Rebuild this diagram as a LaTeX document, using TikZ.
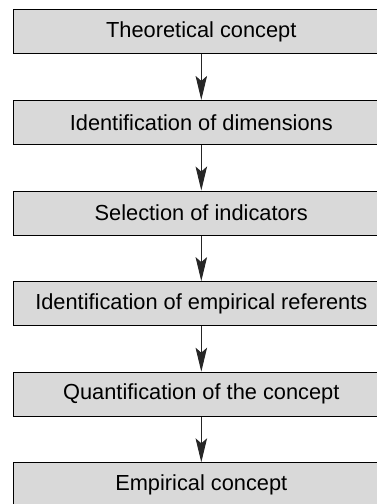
\documentclass[tikz,border=0pt]{standalone}
\usepackage{fontspec}
\setmainfont{Liberation Sans}
\usetikzlibrary{arrows.meta}
\definecolor{boxgray}{HTML}{D9D9D9}
\tikzset{
  stepbox/.style={draw=black, line width=1.1pt, fill=boxgray, anchor=north west,
    minimum width=376.5pt, minimum height=44pt, inner sep=0pt,
    font=\fontsize{21.8}{24}\selectfont},
  flowarrow/.style={draw=black!85, line width=1pt,
    -{Stealth[length=24pt, width=11.5pt, inset=5pt]}}
}
\begin{document}
\begin{tikzpicture}[x=1pt,y=1pt]
\clip (0,0) rectangle (377,-504);
\node[stepbox] (b1) at (12.5,-9.3) {Theoretical concept};
\node[stepbox] (b2) at (12.5,-99.9) {Identification of dimensions};
\node[stepbox] (b3) at (12.5,-190.5) {Selection of indicators};
\node[stepbox] (b4) at (12.5,-281.1) {Identification of empirical referents};
\node[stepbox] (b5) at (12.5,-371.7) {Quantification of the concept};
\node[stepbox] (b6) at (12.5,-462.3) {Empirical concept};
\draw[flowarrow] (b1.south) -- (b2.north);
\draw[flowarrow] (b2.south) -- (b3.north);
\draw[flowarrow] (b3.south) -- (b4.north);
\draw[flowarrow] (b4.south) -- (b5.north);
\draw[flowarrow] (b5.south) -- (b6.north);
\end{tikzpicture}
\end{document}
